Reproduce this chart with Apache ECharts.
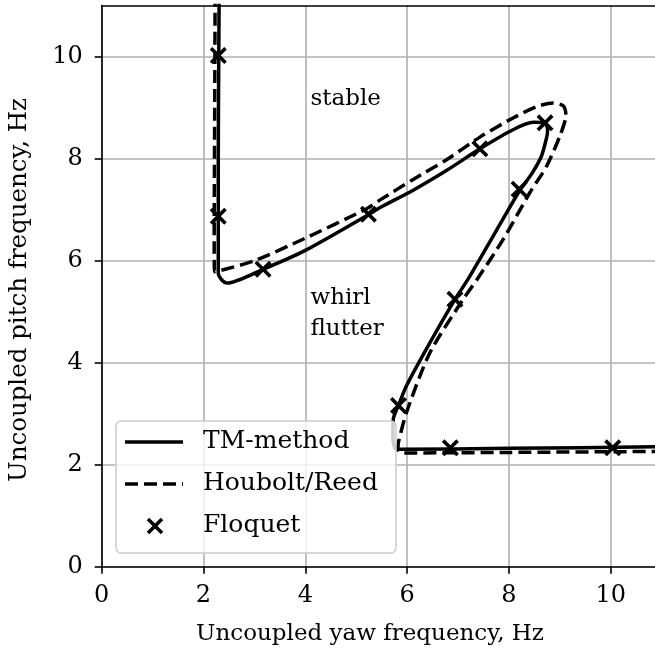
<!DOCTYPE html>
<html><head><meta charset="utf-8">
<script src="https://cdn.jsdelivr.net/npm/echarts@6/dist/echarts.min.js"></script>
<style>html,body{margin:0;padding:0;background:#fff}#c{width:655px;height:653px}</style>
</head><body><div id="c"></div>
<script>
// TM-method (solid)
const tmYaw   = [2.31, 2.30, 2.29, 2.29, 2.29, 2.36, 2.46, 3.17, 4.00, 5.24, 5.47, 6.12, 6.78, 7.43, 8.09, 8.48, 8.71, 8.76, 8.74, 8.64, 8.46, 8.21, 7.95, 7.69, 7.20, 6.94, 6.38, 5.99, 5.83, 5.73, 5.72, 5.76, 5.85, 8.00, 11.00];
const tmPitch = [11.60, 10.00, 8.00, 6.85, 5.75, 5.62, 5.56, 5.83, 6.20, 6.90, 7.04, 7.38, 7.77, 8.19, 8.57, 8.71, 8.70, 8.55, 8.41, 8.05, 7.72, 7.37, 6.93, 6.48, 5.64, 5.24, 4.27, 3.55, 3.16, 2.90, 2.55, 2.33, 2.30, 2.32, 2.35];
// Houbolt/Reed (dashed)
const hrYaw   = [2.23, 2.22, 2.21, 2.22, 3.01, 4.00, 5.21, 5.47, 6.12, 6.78, 7.43, 8.09, 8.55, 8.87, 9.07, 9.12, 9.00, 8.74, 8.41, 7.89, 7.38, 7.10, 6.45, 5.99, 5.83, 5.82, 5.90, 8.00, 11.00];
const hrPitch = [11.60, 9.00, 6.30, 5.78, 6.00, 6.44, 7.02, 7.19, 7.59, 7.98, 8.42, 8.80, 9.02, 9.09, 9.03, 8.85, 8.44, 7.85, 7.33, 6.42, 5.64, 5.24, 4.20, 3.03, 2.44, 2.30, 2.23, 2.24, 2.26];
// Floquet (markers)
const flYaw   = [2.29, 2.29, 3.17, 5.24, 7.43, 8.71, 8.20, 6.94, 5.83, 6.85, 10.04];
const flPitch = [10.02, 6.87, 5.83, 6.91, 8.19, 8.70, 7.40, 5.24, 3.16, 2.33, 2.33];
const tickVals = [0, 2, 4, 6, 8, 10];
const legendNames = ['TM-method', 'Houbolt/Reed', 'Floquet'];
const regionLabels = ['stable', 'whirl', 'flutter'];
const xTitle = 'Uncoupled yaw frequency, Hz';
const yTitle = 'Uncoupled pitch frequency, Hz';

const FONT = '"DejaVu Serif", serif';
const FS = 23;
const zip = (a, b) => a.map((v, i) => [v, b[i]]);
const xPath = 'path://M0,1.5 L1.5,0 L5,3.5 L8.5,0 L10,1.5 L6.5,5 L10,8.5 L8.5,10 L5,6.5 L1.5,10 L0,8.5 L3.5,5 Z';
const gridLine = {color: '#b0b0b0', width: 1.6};
const axLine = {color: '#000', width: 1.6};

const chart = echarts.init(document.getElementById('c'), null, {renderer: 'canvas'});
const txt = (text, x, y, extra, fs) => Object.assign({
  type: 'text', x, y, z: 100,
  style: Object.assign({text, font: (fs || FS) + 'px ' + FONT, fill: '#000', align: 'left', verticalAlign: 'middle'}, extra || {})
});

chart.setOption({
  animation: false,
  backgroundColor: '#fff',
  grid: {left: 101.7, right: 0, top: 5.5, bottom: 86.3, containLabel: false},
  xAxis: [{
    type: 'value', min: 0, max: 10.87, interval: 2, position: 'bottom',
    axisLine: {onZero: false, lineStyle: axLine},
    axisTick: {length: 7, lineStyle: axLine, customValues: tickVals},
    axisLabel: {customValues: tickVals, margin: 17, color: '#000', fontFamily: FONT, fontSize: 24},
    splitLine: {show: true, lineStyle: gridLine}
  }, {
    type: 'value', min: 0, max: 10.87, position: 'top',
    axisLine: {show: true, onZero: false, lineStyle: axLine},
    axisTick: {show: false}, axisLabel: {show: false}, splitLine: {show: false}
  }],
  yAxis: {
    type: 'value', min: 0, max: 11, interval: 2,
    axisLine: {show: true, onZero: false, lineStyle: axLine},
    axisTick: {show: true, length: 7, lineStyle: axLine, customValues: tickVals},
    axisLabel: {customValues: tickVals, margin: 19, color: '#000', fontFamily: FONT, fontSize: 24},
    splitLine: {show: true, lineStyle: gridLine}
  },
  series: [{
    name: legendNames[0], type: 'line', data: zip(tmYaw, tmPitch), symbol: 'none', smooth: 0.25, clip: true, z: 3,
    lineStyle: {color: '#000', width: 3.5}
  }, {
    name: legendNames[1], type: 'line', data: zip(hrYaw, hrPitch), symbol: 'none', smooth: 0.25, clip: true, z: 3,
    lineStyle: {color: '#000', width: 3.5, type: [13, 6]}
  }, {
    name: legendNames[2], type: 'scatter', data: zip(flYaw, flPitch), symbol: xPath, symbolSize: 17, z: 4,
    itemStyle: {color: '#000', opacity: 1}
  }],
  graphic: [
    txt(regionLabels[0], 310.5, 99),
    txt(regionLabels[1], 310.5, 298),
    txt(regionLabels[2], 310.5, 329),
    txt(xTitle, 370, 634, {align: 'center'}),
    Object.assign(txt(yTitle, 20, 290, {align: 'center'}, 24.5), {rotation: Math.PI / 2}),
    {type: 'rect', z: 90, shape: {x: 116, y: 421, width: 280, height: 132, r: 5},
     style: {fill: 'rgba(255,255,255,0.8)', stroke: '#cccccc', lineWidth: 1.5}},
    {type: 'line', z: 100, shape: {x1: 125, y1: 442, x2: 183, y2: 442}, style: {stroke: '#000', lineWidth: 3.5}},
    {type: 'line', z: 100, shape: {x1: 125, y1: 484, x2: 183, y2: 484}, style: {stroke: '#000', lineWidth: 3.5, lineDash: [13, 6]}},
    {type: 'line', z: 100, shape: {x1: 148, y1: 519, x2: 162, y2: 533}, style: {stroke: '#000', lineWidth: 3.6}},
    {type: 'line', z: 100, shape: {x1: 162, y1: 519, x2: 148, y2: 533}, style: {stroke: '#000', lineWidth: 3.6}},
    txt(legendNames[0], 203, 441, null, 25),
    txt(legendNames[1], 203, 483, null, 25),
    txt(legendNames[2], 203, 525, null, 25)
  ]
});
</script>
</body></html>
